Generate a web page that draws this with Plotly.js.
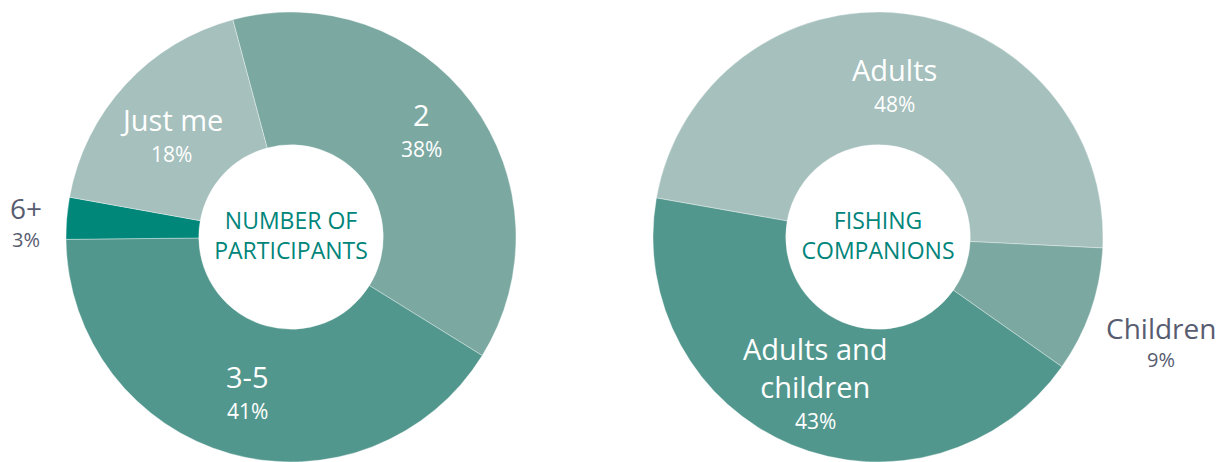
<!DOCTYPE html>
<html>
<head>
<meta charset="utf-8">
<script src="https://cdn.plot.ly/plotly-3.0.1.min.js"></script>
<style>html,body{margin:0;padding:0;background:#fff;}#chart{width:1225px;height:462px;}</style>
</head>
<body>
<div id="chart"></div>
<script>
// ---- data ----
const participantLabels = ['2', '3-5', '6+', 'Just me'];
const participantValues = [38, 41, 3, 18];
const companionLabels = ['Adults', 'Children', 'Adults and children'];
const companionLabelText = ['Adults', 'Children', 'Adults and<br>children'];
const companionValues = [48, 9, 43];

// ---- styles ----
const W = 1225, H = 462;
const participantColors = ['#7ba9a2', '#52978d', '#00877a', '#a5c0bd'];
const companionColors = ['#a5c0bd', '#7ba9a2', '#52978d'];
const participantLabelR = [0.72, 0.72, 1.18, 0.72];
const companionLabelR = [0.66, 1.33, 0.72];
const participantLabelDy = [-6, 3, 12, 12];
const companionLabelDy = [0, 13, 19];
const participantInside = [true, true, false, true];
const companionInside = [true, false, true];
const FONT = '"Open Sans", Lato, sans-serif';

const R = 225; // pixel radius
const leftC = {x: 291, y: 237};
const rightC = {x: 878, y: 237};

function domainFor(c) {
  return {x: [(c.x - R) / W, (c.x + R) / W], y: [1 - (c.y + R) / H, 1 - (c.y - R) / H]};
}

function labelAnnotations(labels, values, rotation, center, rFactors, dys, inside) {
  const total = values.reduce((a, b) => a + b, 0);
  let cum = 0;
  const anns = [];
  labels.forEach((lab, i) => {
    const mid = rotation + (cum + values[i] / 2) / total * 360;
    cum += values[i];
    const th = mid * Math.PI / 180;
    const r = R * rFactors[i];
    const px = center.x + r * Math.sin(th);
    const py = center.y - r * Math.cos(th) + dys[i];
    const pct = Math.round(values[i] / total * 100) + '%';
    const col = inside[i] ? '#ffffff' : '#585c70';
    const nameSize = inside[i] ? 29 : 28;
    const pctSize = inside[i] ? 21 : 20;
    anns.push({
      xref: 'paper', yref: 'paper', x: px / W, y: 1 - py / H,
      text: lab, showarrow: false, xanchor: 'center', yanchor: 'bottom',
      yshift: -2,
      font: {family: FONT, size: nameSize, color: col}
    });
    anns.push({
      xref: 'paper', yref: 'paper', x: px / W, y: 1 - py / H,
      text: pct, showarrow: false, xanchor: 'center', yanchor: 'top',
      yshift: inside[i] ? 1 : 3,
      font: {family: FONT, size: pctSize, color: col}
    });
  });
  return anns;
}

const traces = [
  {
    type: 'pie', labels: participantLabels, values: participantValues,
    hole: 0.41, sort: false, direction: 'clockwise', rotation: -15,
    textinfo: 'none', hoverinfo: 'label+percent',
    marker: {colors: participantColors, line: {color: 'rgba(255,255,255,0.6)', width: 0.6}},
    domain: domainFor(leftC),
    title: {text: 'NUMBER OF<br>PARTICIPANTS', position: 'middle center',
            font: {family: FONT, size: 23, color: '#00857a'}},
    showlegend: false
  },
  {
    type: 'pie', labels: companionLabels, values: companionValues,
    hole: 0.41, sort: false, direction: 'clockwise', rotation: 280,
    textinfo: 'none', hoverinfo: 'label+percent',
    marker: {colors: companionColors, line: {color: 'rgba(255,255,255,0.6)', width: 0.6}},
    domain: domainFor(rightC),
    title: {text: 'FISHING<br>COMPANIONS', position: 'middle center',
            font: {family: FONT, size: 23, color: '#00857a'}},
    showlegend: false
  }
];

const annotations = []
  .concat(labelAnnotations(participantLabels, participantValues, -15, leftC, participantLabelR, participantLabelDy, participantInside))
  .concat(labelAnnotations(companionLabelText, companionValues, 280, rightC, companionLabelR, companionLabelDy, companionInside));

const layout = {
  width: W, height: H,
  margin: {l: 0, r: 0, t: 0, b: 0},
  paper_bgcolor: '#ffffff', plot_bgcolor: '#ffffff',
  showlegend: false,
  annotations: annotations
};

Plotly.newPlot('chart', traces, layout, {displayModeBar: false, staticPlot: true});
</script>
</body>
</html>
